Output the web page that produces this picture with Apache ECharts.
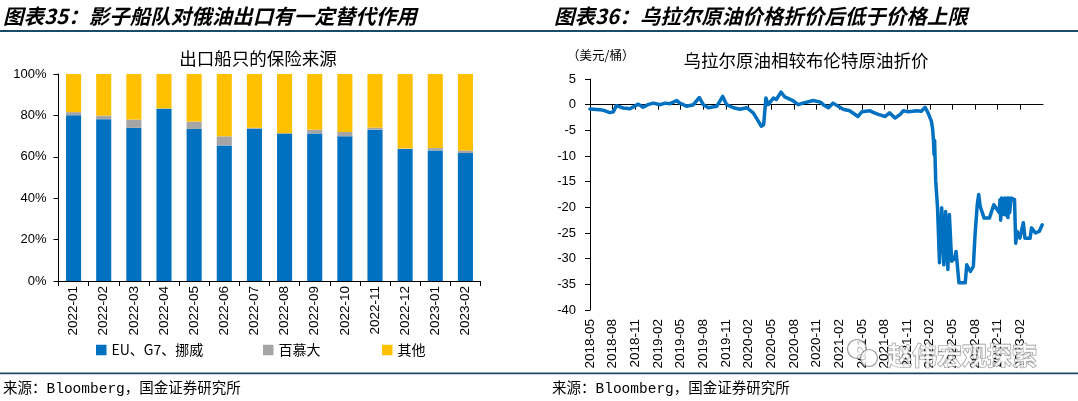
<!DOCTYPE html>
<html>
<head>
<meta charset="utf-8">
<script src="https://cdn.jsdelivr.net/npm/echarts@6/dist/echarts.min.js"></script>
<style>
html,body{margin:0;padding:0;background:#fff;}
#c{width:1078px;height:401px;}
</style>
</head>
<body>
<div id="c"></div>
<script>
// ---------- Left chart data (insurance source of export ships, %) ----------
const barCategories = ['2022-01','2022-02','2022-03','2022-04','2022-05','2022-06','2022-07','2022-08','2022-09','2022-10','2022-11','2022-12','2023-01','2023-02'];
const euG7Norway = [80.1, 78.2, 74.0, 83.2, 73.5, 65.5, 73.6, 71.2, 71.2, 69.9, 73.1, 63.8, 63.1, 61.8];
const bermuda    = [1.5, 1.7, 4.0, 0.2, 3.5, 4.4, 0.4, 0.2, 1.9, 2.1, 1.0, 0.2, 1.1, 1.3];
const others     = [18.4, 20.1, 22.0, 16.6, 23.0, 30.1, 26.0, 28.6, 26.9, 28.0, 25.9, 36.0, 35.8, 36.9];
const barSeriesNames = ['EU、G7、挪威', '百慕大', '其他'];
const barYTicks = [0, 20, 40, 60, 80, 100];

// ---------- Right chart data (Urals discount vs Brent, USD/bbl) ----------
const uralsDates = [
'2018-05-01','2018-06-10','2018-07-01','2018-07-20','2018-08-04','2018-08-16','2018-09-13','2018-10-10','2018-11-13','2018-12-02','2018-12-22',
'2019-01-13','2019-02-10','2019-02-27','2019-03-19','2019-04-16','2019-04-28','2019-05-25','2019-06-22','2019-07-16','2019-08-01','2019-08-22','2019-09-25','2019-10-19','2019-11-04','2019-12-01','2019-12-28',
'2020-01-25','2020-02-19','2020-03-10','2020-03-22','2020-04-01','2020-04-10','2020-04-19','2020-05-10','2020-05-22','2020-06-10','2020-06-25','2020-07-28','2020-08-19','2020-09-07','2020-10-19','2020-11-16','2020-11-28','2020-12-19',
'2021-01-07','2021-02-16','2021-03-13','2021-04-16','2021-05-01','2021-06-04','2021-06-16','2021-07-07','2021-08-04','2021-08-22','2021-09-13','2021-10-04','2021-10-16','2021-11-07','2021-12-10','2021-12-28',
'2022-01-13','2022-01-25','2022-02-07','2022-02-12','2022-02-15','2022-02-17','2022-02-19','2022-02-23','2022-03-02','2022-03-10','2022-03-19','2022-03-28','2022-04-04','2022-04-13','2022-04-19','2022-04-28','2022-05-10','2022-05-16','2022-05-28','2022-06-22','2022-06-28','2022-07-13','2022-07-25',
'2022-08-01','2022-08-10','2022-08-16','2022-08-22','2022-09-07','2022-09-28','2022-10-16','2022-11-07','2022-11-10','2022-11-13','2022-11-16','2022-11-22','2022-11-28','2022-12-04','2022-12-09','2022-12-12','2022-12-15','2022-12-19','2022-12-25',
'2023-01-08','2023-01-13','2023-01-19','2023-01-30','2023-02-12','2023-02-18','2023-03-10','2023-03-16','2023-04-01','2023-04-16','2023-04-28'
];
const uralsDiscount = [
-0.85,-0.97,-1.2,-1.55,-1.4,-0.2,-0.65,-0.8,0.1,-0.5,0,
0.3,0,0.3,0.2,0.8,0.3,-0.3,0,1.4,0,-0.6,-0.3,1.6,0,-0.6,-0.9,
-0.6,-1.6,-3.2,-4.2,-3.9,1.3,0,1.3,1.0,2.45,1.5,0.8,0,0.3,0.8,0.5,0,-0.6,
0.3,-0.9,-1.2,-2.3,-1.4,-1.2,-1.5,-1.9,-2.3,-1.6,-2.6,-1.9,-1.2,-1.4,-1.2,-1.3,
-0.5,-1.6,-3.2,-4.9,-7.1,-9.7,-7.0,-14.8,-20.1,-30.8,-20.1,-31.2,-20.8,-32.1,-21.4,-30.5,-29.9,-28.6,-34.7,-34.7,-31.2,-32.5,-31.5,
-25.3,-19.5,-17.5,-19.8,-22.1,-22.1,-19.5,-21,-18.5,-22.5,-18.2,-21.4,-18.2,-21.5,-18.2,-22,-18.2,-21,-18.2,
-18.5,-27,-24.7,-26,-23,-26,-26,-24,-25,-24.7,-23.4
];
const xTickLabels = ['2018-05','2018-08','2018-11','2019-02','2019-05','2019-08','2019-11','2020-02','2020-05','2020-08','2020-11','2021-02','2021-05','2021-08','2021-11','2022-02','2022-05','2022-08','2022-11','2023-02'];
const lineYTicks = [-40, -35, -30, -25, -20, -15, -10, -5, 0, 5];

// ---------- helpers ----------
function monthIndex(s) { // months since 2018-05-01 (fractional)
  const p = s.split('-').map(Number);
  const dim = new Date(p[0], p[1], 0).getDate();
  return (p[0] - 2018) * 12 + (p[1] - 5) + (p[2] - 1) / dim;
}
const lineData = uralsDates.map((d, i) => [monthIndex(d), uralsDiscount[i]]);
const tickMonths = xTickLabels.map((_, i) => i * 3);

const CJK = '"Noto Sans CJK SC", sans-serif';
const LAT = '"Liberation Sans", Arial, sans-serif';
const FOOT = '"Liberation Mono", "Noto Sans CJK SC", monospace';
const NAVY = '#1D4A6A';

const chart = echarts.init(document.getElementById('c'), null, {renderer: 'canvas'});

const legendBase = {
  orient: 'horizontal', top: 343, padding: 0, icon: 'rect',
  itemWidth: 10.5, itemHeight: 10.5, selectedMode: false,
  textStyle: {fontSize: 14, fontFamily: CJK, color: '#000'}
};

const option = {
  animation: false,
  backgroundColor: '#fff',
  grid: [
    {left: 58.5, top: 74, width: 422, height: 207},
    {left: 590, top: 79, width: 453, height: 231}
  ],
  legend: [
    Object.assign({}, legendBase, {left: 96, data: [barSeriesNames[0]]}),
    Object.assign({}, legendBase, {left: 263, data: [barSeriesNames[1]]}),
    Object.assign({}, legendBase, {left: 382, data: [barSeriesNames[2]]})
  ],
  xAxis: [
    {
      gridIndex: 0, type: 'category', data: barCategories,
      axisLine: {lineStyle: {color: '#000', width: 1}},
      axisTick: {show: true, length: 5, lineStyle: {color: '#000'}},
      axisLabel: {rotate: 90, color: '#000', fontSize: 13.5, fontFamily: LAT, margin: 5}
    },
    {
      gridIndex: 1, type: 'value', min: 0, max: 60, interval: 3,
      axisLine: {show: true, onZero: true, lineStyle: {color: '#000', width: 1}},
      axisTick: {show: true, length: 5, lineStyle: {color: '#000'}, customValues: tickMonths},
      axisLabel: {show: false},
      splitLine: {show: false}
    },
    {
      gridIndex: 1, type: 'value', min: 0, max: 60, interval: 3, position: 'bottom',
      axisLine: {show: false, onZero: false},
      axisTick: {show: false},
      axisLabel: {
        rotate: 90, color: '#000', fontSize: 13.5, fontFamily: LAT, margin: 9,
        formatter: function (v) { return xTickLabels[Math.round(v / 3)] || ''; }
      },
      splitLine: {show: false}
    }
  ],
  yAxis: [
    {
      gridIndex: 0, type: 'value', min: barYTicks[0], max: barYTicks[barYTicks.length - 1], interval: 20,
      axisLine: {show: true, lineStyle: {color: '#000', width: 1}},
      axisTick: {show: true, length: 5, lineStyle: {color: '#000'}},
      axisLabel: {color: '#000', fontSize: 13, fontFamily: LAT, margin: 12, formatter: '{value}%'},
      splitLine: {show: false}
    },
    {
      gridIndex: 1, type: 'value', min: lineYTicks[0], max: lineYTicks[lineYTicks.length - 1], interval: 5,
      axisLine: {show: true, onZero: false, lineStyle: {color: '#000', width: 1}},
      axisTick: {show: true, length: 5, lineStyle: {color: '#000'}},
      axisLabel: {color: '#000', fontSize: 13, fontFamily: LAT, margin: 14},
      splitLine: {show: false}
    }
  ],
  series: [
    {name: barSeriesNames[0], type: 'bar', stack: 'ins', xAxisIndex: 0, yAxisIndex: 0, barWidth: '50%',
     itemStyle: {color: '#0070C0'}, data: euG7Norway},
    {name: barSeriesNames[1], type: 'bar', stack: 'ins', xAxisIndex: 0, yAxisIndex: 0, barWidth: '50%',
     itemStyle: {color: '#A5A5A5'}, data: bermuda},
    {name: barSeriesNames[2], type: 'bar', stack: 'ins', xAxisIndex: 0, yAxisIndex: 0, barWidth: '50%',
     itemStyle: {color: '#FFC000'}, data: others},
    {name: '乌拉尔原油相较布伦特原油折价', type: 'line', xAxisIndex: 1, yAxisIndex: 1,
     showSymbol: false, symbol: 'none', smooth: false,
     lineStyle: {color: '#0070C0', width: 3.5, join: 'round', cap: 'round'},
     data: lineData}
  ],
  graphic: [
    // header / footer rules
    {type: 'rect', silent: true, shape: {x: 0, y: 30, width: 1078, height: 2}, style: {fill: NAVY}},
    {type: 'rect', silent: true, shape: {x: 0, y: 372.5, width: 1078, height: 1.7}, style: {fill: NAVY}},
    // headers
    {type: 'text', x: 3, y: 16, style: {text: '图表35：影子船队对俄油出口有一定替代作用', fill: '#000',
      fontSize: 20.5, fontWeight: 'bold', fontStyle: 'italic', fontFamily: CJK, textVerticalAlign: 'middle'}},
    {type: 'text', x: 554, y: 16, style: {text: '图表36：乌拉尔原油价格折价后低于价格上限', fill: '#000',
      fontSize: 20.5, fontWeight: 'bold', fontStyle: 'italic', fontFamily: CJK, textVerticalAlign: 'middle'}},
    // chart titles
    {type: 'text', x: 258, y: 58, style: {text: '出口船只的保险来源', fill: '#000', fontSize: 17.5,
      fontFamily: CJK, textAlign: 'center', textVerticalAlign: 'middle'}},
    {type: 'text', x: 806, y: 60.5, style: {text: '乌拉尔原油相较布伦特原油折价', fill: '#000', fontSize: 17.5,
      fontFamily: CJK, textAlign: 'center', textVerticalAlign: 'middle'}},
    {type: 'text', x: 567, y: 55.5, style: {text: '（美元/桶）', fill: '#000', fontSize: 12.5,
      fontFamily: CJK, textVerticalAlign: 'middle'}},
    // footers
    {type: 'text', x: 3, y: 389, style: {text: '来源：Bloomberg，国金证券研究所', fill: '#000', fontSize: 14.5,
      fontFamily: FOOT, textVerticalAlign: 'middle'}},
    {type: 'text', x: 552, y: 389, style: {text: '来源：Bloomberg，国金证券研究所', fill: '#000', fontSize: 14.5,
      fontFamily: FOOT, textVerticalAlign: 'middle'}},
    // watermark
    {type: 'circle', z: 100, silent: true, shape: {cx: 857, cy: 349, r: 9.5},
      style: {fill: 'rgba(255,255,255,0.75)', stroke: 'rgba(120,120,120,0.75)', lineWidth: 1.2}},
    {type: 'circle', z: 101, silent: true, shape: {cx: 869, cy: 358, r: 8.5},
      style: {fill: 'rgba(255,255,255,0.75)', stroke: 'rgba(120,120,120,0.75)', lineWidth: 1.2}},
    {type: 'text', z: 102, silent: true, x: 887, y: 355, style: {text: '赵伟宏观探索', fontSize: 25, fontWeight: 'bold',
      fontFamily: CJK, fill: 'rgba(255,255,255,0.8)', stroke: 'rgba(110,110,110,0.75)', lineWidth: 1.2,
      textVerticalAlign: 'middle'}}
  ]
};
chart.setOption(option);
</script>
</body>
</html>
